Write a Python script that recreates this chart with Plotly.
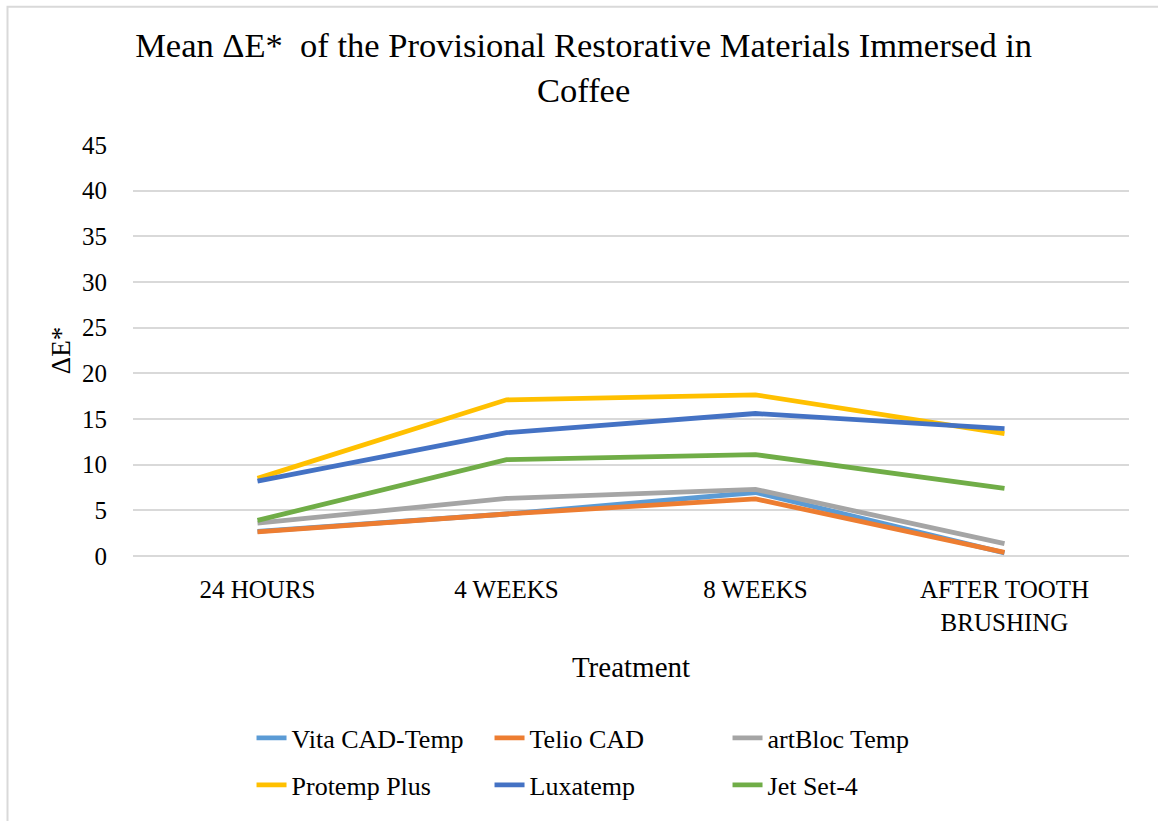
import plotly.graph_objects as go

categories = ["24 HOURS", "4 WEEKS", "8 WEEKS", "AFTER TOOTH<br>BRUSHING"]

vita_cad_temp = [2.7, 4.6, 6.95, 0.35]
telio_cad = [2.65, 4.6, 6.25, 0.4]
artbloc_temp = [3.6, 6.3, 7.3, 1.35]
protemp_plus = [8.5, 17.1, 17.65, 13.4]
luxatemp = [8.2, 13.5, 15.6, 13.95]
jet_set_4 = [3.9, 10.55, 11.1, 7.4]

series = [
    ("Vita CAD-Temp", vita_cad_temp, "#5B9BD5", "legend"),
    ("Telio CAD", telio_cad, "#ED7D31", "legend"),
    ("artBloc Temp", artbloc_temp, "#A5A5A5", "legend"),
    ("Protemp Plus", protemp_plus, "#FFC000", "legend2"),
    ("Luxatemp", luxatemp, "#4472C4", "legend2"),
    ("Jet Set-4", jet_set_4, "#70AD47", "legend2"),
]

FONT = "Liberation Serif"

fig = go.Figure()
for name, vals, color, lg in series:
    fig.add_trace(go.Scatter(
        x=categories, y=vals, mode="lines", name=name,
        line=dict(color=color, width=4.8),
        legend=lg,
    ))

legend_common = dict(
    orientation="h", entrywidth=193, entrywidthmode="pixels",
    xanchor="left", yanchor="middle", x=0.119,
    font=dict(family=FONT, size=26, color="#000000"),
    bgcolor="rgba(0,0,0,0)", tracegroupgap=0, itemwidth=30,
)

fig.update_layout(
    width=1158, height=821,
    margin=dict(l=133, r=29, t=145, b=263),
    paper_bgcolor="white", plot_bgcolor="white",
    font=dict(family=FONT, color="#000000"),
    title=dict(
        text="Mean ΔE*  of the Provisional Restorative Materials Immersed in<br>Coffee",
        x=0.504, xanchor="center", y=0.93, yanchor="top",
        font=dict(family=FONT, size=34.5, color="#000000"),
    ),
    xaxis=dict(
        range=[-0.5, 3.5], automargin=False,
        showgrid=False, showline=False, zeroline=False, ticks="",
        tickfont=dict(family=FONT, size=25, color="#000000"),
        ticklabelstandoff=16,
        title=dict(text="Treatment", font=dict(family=FONT, size=29, color="#000000"), standoff=22),
    ),
    yaxis=dict(
        range=[0, 45], dtick=5, tick0=0, automargin=False,
        showgrid=True, gridcolor="#D9D9D9", gridwidth=1.5,
        zeroline=True, zerolinecolor="#D9D9D9", zerolinewidth=1.5,
        showline=False, ticks="",
        tickfont=dict(family=FONT, size=25, color="#000000"),
        ticklabelstandoff=25,
        title=dict(text="ΔE*", font=dict(family=FONT, size=27, color="#000000"), standoff=3),
    ),
    legend=dict(y=-0.443, **legend_common),
    legend2=dict(y=-0.557, **legend_common),
    shapes=[dict(
        type="rect", xref="paper", yref="paper",
        x0=-0.126, x1=1.06, y0=-0.7, y1=1.3366,
        line=dict(color="#D9D9D9", width=2), fillcolor="rgba(0,0,0,0)", layer="below",
    )],
)

fig.write_html("out.html")
